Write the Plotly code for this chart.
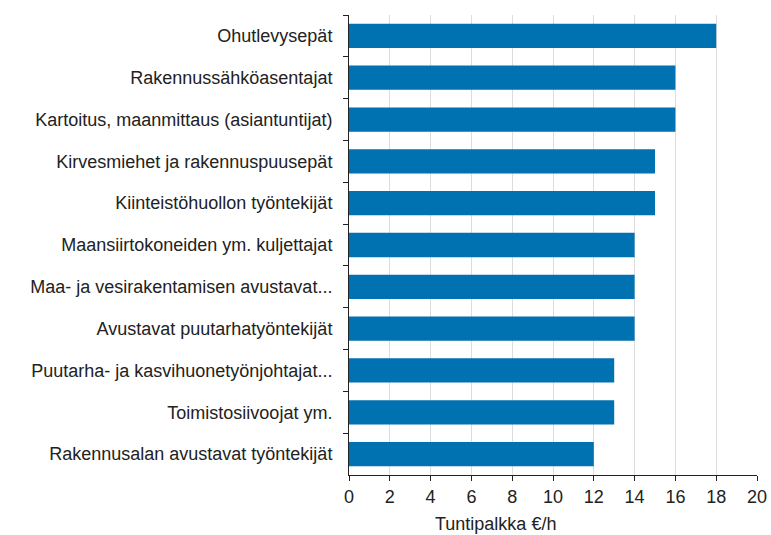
import plotly.graph_objects as go

categories = [
    "Ohutlevysepät",
    "Rakennussähköasentajat",
    "Kartoitus, maanmittaus (asiantuntijat)",
    "Kirvesmiehet ja rakennuspuusepät",
    "Kiinteistöhuollon työntekijät",
    "Maansiirtokoneiden ym. kuljettajat",
    "Maa- ja vesirakentamisen avustavat...",
    "Avustavat puutarhatyöntekijät",
    "Puutarha- ja kasvihuonetyönjohtajat...",
    "Toimistosiivoojat ym.",
    "Rakennusalan avustavat työntekijät",
]
values = [18, 16, 16, 15, 15, 14, 14, 14, 13, 13, 12]
x_ticks = list(range(0, 21, 2))
x_title = "Tuntipalkka €/h"

fig = go.Figure(go.Bar(
    x=values, y=categories, orientation="h",
    marker=dict(color="#0071b1", line=dict(width=0)),
    hoverinfo="x+y",
))

fig.update_layout(
    width=771, height=535,
    margin=dict(l=349, r=14, t=15, b=60),
    paper_bgcolor="white", plot_bgcolor="white",
    font=dict(family="Liberation Sans, Arial, sans-serif", size=18, color="#222222"),
    bargap=0.42,
    showlegend=False,
    annotations=[dict(
        text=x_title, xref="paper", yref="paper", x=(495 - 349) / (757 - 349), y=0,
        yshift=-49, xanchor="center", yanchor="middle", showarrow=False,
        font=dict(size=18, color="#222222"),
    )],
)
fig.update_xaxes(
    range=[0, 20], tickvals=x_ticks, showgrid=True, gridcolor="#dcdcdc", gridwidth=1,
    showline=True, linecolor="#222", linewidth=1, automargin=False,
    ticks="outside", ticklen=5, tickcolor="#222", zeroline=False,
)
fig.update_yaxes(
    categoryorder="array", categoryarray=categories, autorange="reversed",
    showline=True, linecolor="#222", linewidth=1, automargin=False,
    ticks="outside", ticklen=5, tickcolor="#222", tickson="boundaries",
    showgrid=False, ticklabelstandoff=12,
)

fig.write_html("out.html", config={"displayModeBar": False},
               post_script="document.body.style.margin='0';")
